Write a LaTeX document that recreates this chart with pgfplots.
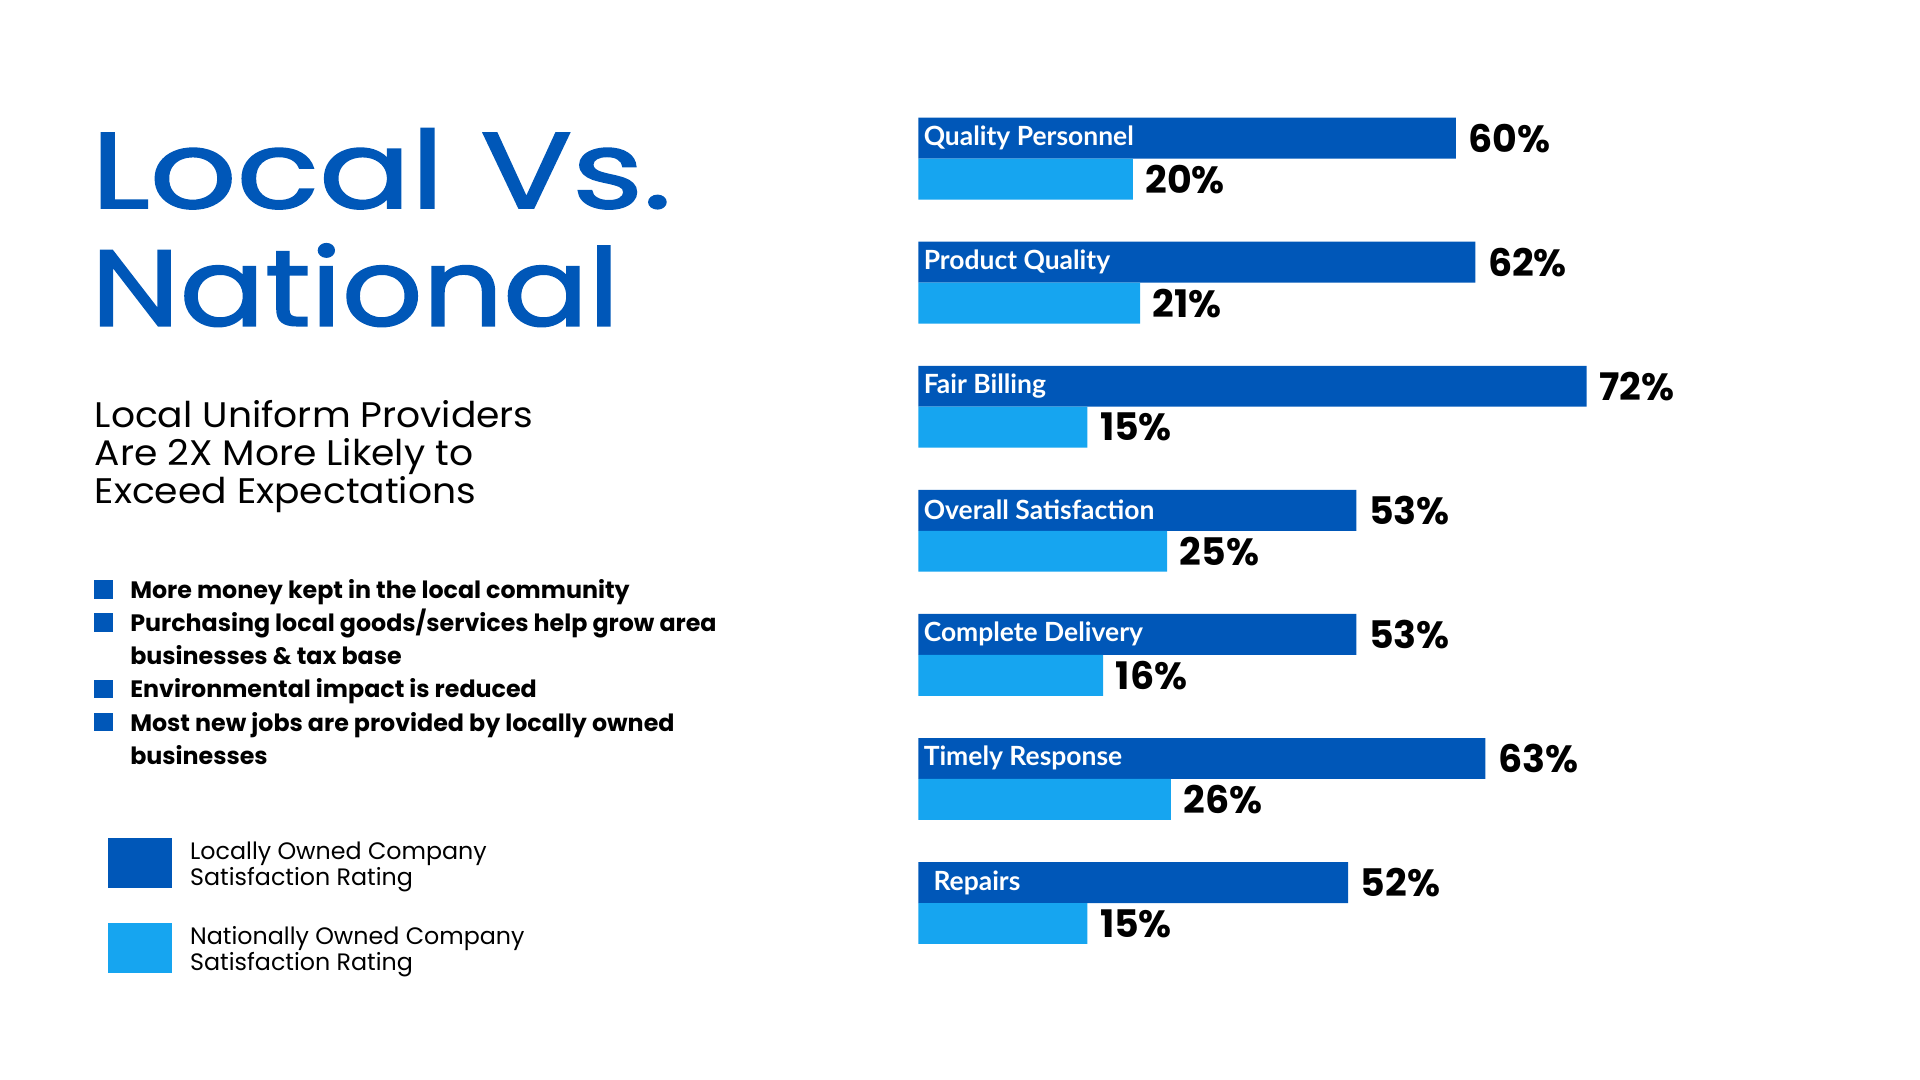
\documentclass[border=0pt]{standalone}
\usepackage{fontspec}
\setmainfont{Poppins}
\newfontfamily\lato{Lato}
\newfontfamily\titlefont[FakeBold=1.5]{Poppins}
\usepackage{pgfplots}
\usepackage{pgfplotstable}
\pgfplotsset{compat=1.18}
\definecolor{dkblue}{RGB}{0,87,184}
\definecolor{ltblue}{RGB}{22,165,240}

% bar lengths as drawn (x) and printed labels (lab)
\pgfplotstableread{
y x lab
6 57.9 60
5 60.0 62
4 72.0 72
3 47.2 53
2 47.2 53
1 61.1 63
0 46.3 52
}\localdata
\pgfplotstableread{
y x lab
6 23.1 20
5 23.9 21
4 18.2 15
3 26.8 25
2 19.9 16
1 27.2 26
0 18.2 15
}\natdata

\begin{document}
\begin{tikzpicture}
\path (0,0) rectangle (784pt,441pt);
\begin{scope}[x=0.5pt,y=0.5pt]
\node[anchor=base west, inner sep=0pt, text=dkblue, font=\titlefont\fontsize{44}{44}\selectfont] at (74,712) {\scalebox{1.26}[1]{Local Vs.}};
\node[anchor=base west, inner sep=0pt, text=dkblue, font=\titlefont\fontsize{44}{44}\selectfont] at (74,616) {\scalebox{1.17}[1]{National}};
\tikzset{sub/.style={anchor=base west, inner sep=0pt, font=\fontsize{14.5}{15}\selectfont},
  bul/.style={anchor=base west, inner sep=0pt, font=\fontsize{9.7}{10}\selectfont\bfseries}}
\node[sub] at (77,533) {\scalebox{1.06}[1]{Local Uniform Providers}};
\node[sub] at (77,502) {\scalebox{1.06}[1]{Are 2X More Likely to}};
\node[sub] at (77,471) {\scalebox{1.06}[1]{Exceed Expectations}};
\node[bul] at (106,393) {More money kept in the local community};
\node[bul] at (106,366) {Purchasing local goods/services help grow area};
\node[bul] at (106,339) {businesses \& tax base};
\node[bul] at (106,312) {Environmental impact is reduced};
\node[bul] at (106,285) {Most new jobs are provided by locally owned};
\node[bul] at (106,258) {businesses};
\foreach \yy in {393,366,312,285}
  \fill[dkblue] (77,\yy) rectangle (92,\yy+15);
\end{scope}
\begin{axis}[
  at={(375pt,21.6pt)}, anchor=south west,
  scale only axis, width=379pt, height=405.3pt,
  xmin=0, xmax=100, ymin=-1, ymax=7,
  axis line style={draw=none}, major tick length=0pt,
  xtick=\empty, ytick={0,...,6},
  yticklabels={{\hspace{4pt}Repairs},Timely Response,Complete Delivery,Overall Satisfaction,Fair Billing,Product Quality,Quality Personnel},
  yticklabel style={anchor=west, text=white, font=\lato\bfseries\fontsize{10.8}{11}\selectfont, yshift=8.4pt, inner xsep=2pt},
  axis on top, clip=false,
  xbar, bar width=0.33,
  legend cell align=left,
  legend style={at={(rel axis cs:-0.8734,0.192)}, anchor=north west, draw=none, fill=none, inner sep=0pt,
    row sep=11.5pt, column sep=7.5pt, font=\fontsize{9.7}{10.5}\selectfont,
    nodes={align=left, inner xsep=0pt, inner ysep=2pt}},
  nodes near coords={\pgfplotspointmeta\%},
  nodes near coords style={anchor=west, text=black, font=\bfseries\fontsize{15.5}{16}\selectfont, inner xsep=5pt},
]
\addplot[fill=dkblue, draw=none, bar shift=0.165, point meta=explicit symbolic,
  legend image code/.code={\fill[dkblue] (0pt,-9.25pt) rectangle (26pt,11.25pt);}]
  table[x=x, y=y, meta=lab] {\localdata};
\addlegendentry{Locally Owned Company\\Satisfaction Rating}
\addplot[fill=ltblue, draw=none, bar shift=-0.165, point meta=explicit symbolic,
  legend image code/.code={\fill[ltblue] (0pt,-9.25pt) rectangle (26pt,11.25pt);}]
  table[x=x, y=y, meta=lab] {\natdata};
\addlegendentry{Nationally Owned Company\\Satisfaction Rating}
\end{axis}
\end{tikzpicture}
\end{document}
